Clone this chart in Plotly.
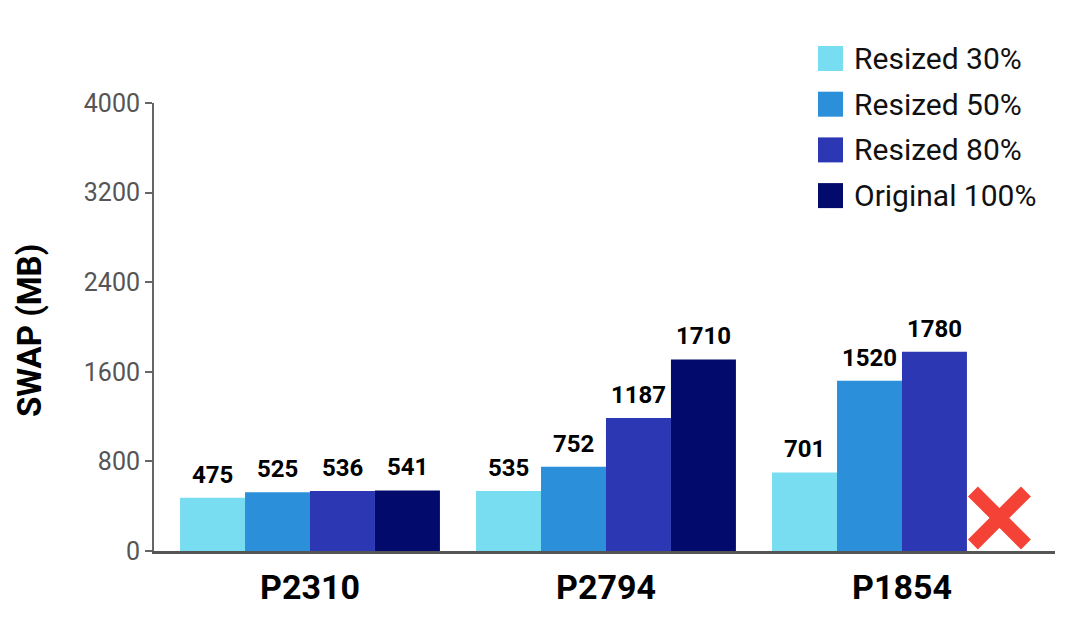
import plotly.graph_objects as go

categories = ["P2310", "P2794", "P1854"]
series_names = ["Resized 30%", "Resized 50%", "Resized 80%", "Original 100%"]
resized_30 = [475, 535, 701]
resized_50 = [525, 752, 1520]
resized_80 = [536, 1187, 1780]
original_100 = [541, 1710, None]
series_values = [resized_30, resized_50, resized_80, original_100]
colors = ["#78DDF0", "#2B8FDA", "#2C37B4", "#020B6B"]
y_ticks = [0, 800, 1600, 2400, 3200, 4000]
y_title = "SWAP (MB)"
failed_category = "P1854"
failed_series = "Original 100%"
failed_marker_y = 295

bargap = 0.122
n_series = len(series_names)
bar_w = (1 - bargap) / n_series
x_idx = list(range(len(categories)))

# page body has an 8px default margin; compensate so the chart lands where intended
OFF = 8
W, H = 1082, 625
plot_left, plot_right, plot_top, plot_bottom = 154 - OFF, 1055 - OFF, 103 - OFF, 551 - OFF
pw, ph = plot_right - plot_left, plot_bottom - plot_top

def px_to_paper(px, py):
    return (px - OFF - plot_left) / pw, (plot_bottom - (py - OFF)) / ph

fig = go.Figure()
for si_, (name, vals, col) in enumerate(zip(series_names, series_values, colors)):
    fig.add_trace(go.Bar(
        x=x_idx, y=vals, name=name, marker_color=col, marker_line_width=0,
        showlegend=False,
    ))
    off = (si_ - (n_series - 1) / 2) * bar_w
    for xi, v in zip(x_idx, vals):
        if v is None:
            continue
        fig.add_annotation(x=xi + off, y=v, text=str(v), showarrow=False,
                           yanchor="bottom", xanchor="center", yshift=7,
                           font=dict(family="Roboto", size=24, color="#000000", weight="bold"))

# failure marker at the missing bar position
fi = categories.index(failed_category)
si = series_names.index(failed_series)
fx = fi + (si - (n_series - 1) / 2) * bar_w
fig.add_trace(go.Scatter(
    x=[fx], y=[failed_marker_y], mode="markers", showlegend=False,
    marker=dict(symbol="x-thin-open", size=53, color="#F44336",
                line=dict(color="#F44336", width=14)),
    cliponaxis=False, hoverinfo="skip",
))

# custom legend (large square swatches)
for i, (name, col) in enumerate(zip(series_names, colors)):
    cy = 58.5 + i * 45.7
    x0, y0 = px_to_paper(818, cy - 12.5)
    x1, y1 = px_to_paper(843, cy + 12.5)
    fig.add_shape(type="rect", xref="paper", yref="paper", x0=x0, x1=x1,
                  y0=y1, y1=y0, fillcolor=col, line_width=0)
    tx, ty = px_to_paper(852, cy)
    fig.add_annotation(xref="paper", yref="paper", x=tx, y=ty, text=name,
                       showarrow=False, xanchor="left", yanchor="middle",
                       font=dict(family="Roboto", size=30, color="#111111"))

# y-axis title
ttx, tty = px_to_paper(29, 331)
fig.add_annotation(xref="paper", yref="paper", x=ttx, y=tty, text=y_title,
                   textangle=-90, showarrow=False, xanchor="center", yanchor="middle",
                   borderpad=0,
                   font=dict(family="Roboto", size=33, color="#000000", weight="bold"))

fig.update_layout(
    width=W, height=H,
    margin=dict(l=plot_left, r=W - plot_right, t=plot_top, b=H - plot_bottom, autoexpand=False),
    paper_bgcolor="white", plot_bgcolor="white",
    barmode="group", bargap=bargap, bargroupgap=0,
    showlegend=False,
    font=dict(family="Roboto"),
)
fig.update_xaxes(
    range=[-0.527, 2.517], tickmode="array", tickvals=x_idx, ticktext=categories,
    showgrid=False, zeroline=False, showline=True, linecolor="#555555", linewidth=3,
    ticks="", automargin=False, ticklabelstandoff=4,
    tickfont=dict(family="Roboto", size=34, color="#000000", weight="bold"),
)
fig.update_yaxes(
    range=[0, 4000], tickmode="array", tickvals=y_ticks, automargin=False,
    showgrid=False, zeroline=False, showline=True, linecolor="#666666", linewidth=2,
    ticks="outside", ticklen=7, tickcolor="#666666", tickwidth=1.5,
    tickfont=dict(family="Roboto", size=25, color="#555555"),
)
fig.write_html("out.html")
